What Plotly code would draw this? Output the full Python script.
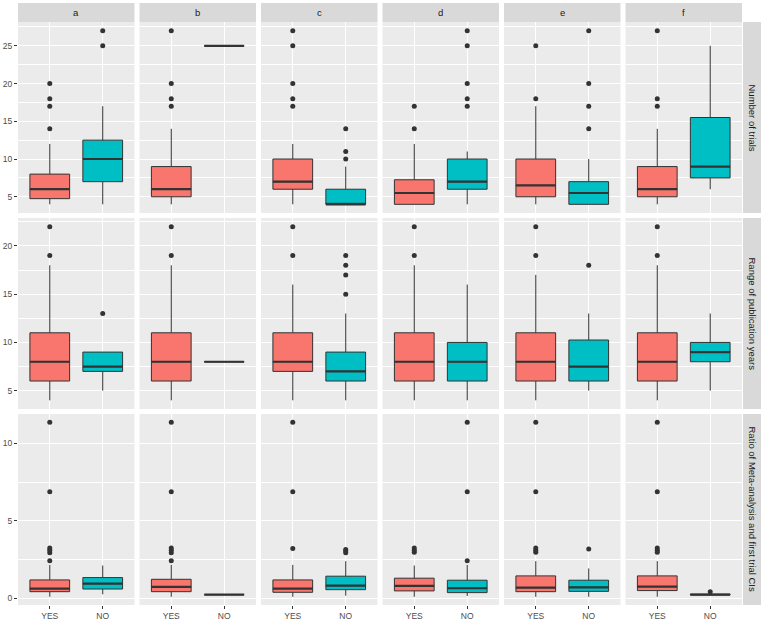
import plotly.graph_objects as go

facets = ["a", "b", "c", "d", "e", "f"]
metrics = ["Number of trials", "Range of publication years",
           "Ratio of Meta-analysis and first trial CIs"]
groups = ["YES", "NO"]

# ---- Number of trials ----
trials_yes_q1 = [4.75, 5, 6, 4, 5, 5]
trials_yes_med = [6, 6, 7, 5.5, 6.5, 6]
trials_yes_q3 = [8, 9, 10, 7.25, 10, 9]
trials_yes_lo = [4, 4, 4, 4, 4, 4]
trials_yes_hi = [12, 14, 12, 12, 17, 14]
trials_yes_out = [[14, 17, 18, 20], [17, 18, 20, 27], [17, 18, 20, 25, 27],
                  [14, 17], [18, 25], [17, 18, 27]]
trials_no_q1 = [7, 25, 4, 6, 4, 7.5]
trials_no_med = [10, 25, 4, 7, 5.5, 9]
trials_no_q3 = [12.5, 25, 6, 10, 7, 15.5]
trials_no_lo = [4, 25, 4, 4, 4, 6]
trials_no_hi = [17, 25, 9, 11, 10, 25]
trials_no_out = [[25, 27], [], [10, 11, 14], [17, 18, 20, 25, 27],
                 [14, 17, 20, 27], []]

# ---- Range of publication years ----
years_yes_q1 = [6, 6, 7, 6, 6, 6]
years_yes_med = [8, 8, 8, 8, 8, 8]
years_yes_q3 = [11, 11, 11, 11, 11, 11]
years_yes_lo = [4, 4, 4, 4, 4, 4]
years_yes_hi = [18, 18, 16, 18, 17, 18]
years_yes_out = [[19, 22], [19, 22], [19, 22], [19, 22], [19, 22], [19, 22]]
years_no_q1 = [7, 8, 6, 6, 6, 8]
years_no_med = [7.5, 8, 7, 8, 7.5, 9]
years_no_q3 = [9, 8, 9, 10, 10.25, 10]
years_no_lo = [5, 8, 4, 4, 5, 5]
years_no_hi = [9, 8, 13, 16, 13, 13]
years_no_out = [[13], [], [15, 17, 18, 19], [], [18], []]

# ---- Ratio of MA and first trial CIs ----
ratio_yes_q1 = [0.43, 0.43, 0.39, 0.48, 0.43, 0.5]
ratio_yes_med = [0.63, 0.74, 0.63, 0.8, 0.69, 0.76]
ratio_yes_q3 = [1.19, 1.23, 1.19, 1.3, 1.45, 1.45]
ratio_yes_lo = [0.1, 0.1, 0.1, 0.1, 0.1, 0.1]
ratio_yes_hi = [2.16, 2.16, 2.16, 2.12, 2.4, 2.4]
ratio_yes_out = [[2.42, 2.95, 3.1, 3.25, 6.88, 11.36],
                 [2.42, 2.95, 3.1, 3.25, 6.88, 11.36],
                 [3.22, 6.88, 11.36],
                 [2.97, 3.1, 3.25],
                 [2.97, 3.1, 3.25, 6.88, 11.36],
                 [2.97, 3.1, 3.25, 6.88, 11.36]]
ratio_no_q1 = [0.6, 0.24, 0.56, 0.37, 0.45, 0.22]
ratio_no_med = [0.95, 0.24, 0.82, 0.65, 0.71, 0.24]
ratio_no_q3 = [1.34, 0.24, 1.43, 1.17, 1.17, 0.27]
ratio_no_lo = [0.26, 0.24, 0.17, 0.15, 0.1, 0.2]
ratio_no_hi = [2.12, 0.24, 2.4, 2.16, 1.93, 0.3]
ratio_no_out = [[], [], [2.95, 3.05, 3.15], [2.42, 6.88, 11.36], [3.18], [0.43]]

y_ranges = [[2.85, 28.15], [3.1, 22.9], [-0.43, 11.9]]
y_dticks = [5, 5, 5]

stats = [
    {"YES": (trials_yes_q1, trials_yes_med, trials_yes_q3, trials_yes_lo, trials_yes_hi, trials_yes_out),
     "NO": (trials_no_q1, trials_no_med, trials_no_q3, trials_no_lo, trials_no_hi, trials_no_out)},
    {"YES": (years_yes_q1, years_yes_med, years_yes_q3, years_yes_lo, years_yes_hi, years_yes_out),
     "NO": (years_no_q1, years_no_med, years_no_q3, years_no_lo, years_no_hi, years_no_out)},
    {"YES": (ratio_yes_q1, ratio_yes_med, ratio_yes_q3, ratio_yes_lo, ratio_yes_hi, ratio_yes_out),
     "NO": (ratio_no_q1, ratio_no_med, ratio_no_q3, ratio_no_lo, ratio_no_hi, ratio_no_out)},
]
colors = {"YES": "#F8766D", "NO": "#00BFC4"}

W, H = 764, 620
PW, GAP = 116.5, 5
col_x0 = [18 + i * (PW + GAP) for i in range(6)]
PH = 191
row_y0 = [22, 22 + PH + 5, 22 + 2 * (PH + 5)]
STRIP_TOP = 3
STRIP_W = 18

FONT = "Liberation Sans, Arial, sans-serif"
LINE = "#333333"
BW = 0.75

fig = go.Figure()
layout = {}
shapes = []
annotations = []

for r in range(3):
    for c in range(6):
        k = r * 6 + c + 1
        xa = "x" if k == 1 else f"x{k}"
        ya = "y" if k == 1 else f"y{k}"
        xkey = "xaxis" if k == 1 else f"xaxis{k}"
        ykey = "yaxis" if k == 1 else f"yaxis{k}"
        x0 = col_x0[c]
        x1 = x0 + PW
        y0 = row_y0[r]
        y1 = y0 + PH
        layout[xkey] = dict(
            domain=[x0 / W, x1 / W], anchor=ya, range=[-0.6, 1.6],
            tickvals=[0, 1], ticktext=groups, showgrid=True,
            gridcolor="white", gridwidth=1.1, zeroline=False, showline=False,
            showticklabels=(r == 2), ticks="outside" if r == 2 else "",
            ticklen=3, tickcolor=LINE, tickwidth=1,
            tickfont=dict(family=FONT, size=8.5, color="#4D4D4D"),
            fixedrange=True,
        )
        layout[ykey] = dict(
            domain=[1 - y1 / H, 1 - y0 / H], anchor=xa, range=y_ranges[r],
            tick0=0, dtick=y_dticks[r], showgrid=True, gridcolor="white",
            gridwidth=1.1, zeroline=False, showline=False,
            minor=dict(dtick=y_dticks[r] / 2, tick0=0, showgrid=True,
                       gridcolor="white", gridwidth=0.5, ticks=""),
            showticklabels=(c == 0), ticks="outside" if c == 0 else "",
            ticklen=3, tickcolor=LINE, tickwidth=1,
            tickfont=dict(family=FONT, size=8.5, color="#4D4D4D"),
            fixedrange=True,
        )
        shapes.append(dict(type="rect", xref="paper", yref="paper",
                           x0=x0 / W, x1=x1 / W, y0=1 - y1 / H, y1=1 - y0 / H,
                           fillcolor="#EBEBEB", line=dict(width=0), layer="below"))
        for gi, g in enumerate(groups):
            q1, med, q3, lo, hi, out = stats[r][g]
            fig.add_trace(go.Box(
                x=[gi], q1=[q1[c]], median=[med[c]], q3=[q3[c]],
                lowerfence=[lo[c]], upperfence=[hi[c]],
                width=BW, whiskerwidth=0, boxpoints=False,
                fillcolor=colors[g], line=dict(color=LINE, width=1),
                xaxis=xa, yaxis=ya, showlegend=False, hoverinfo="skip",
            ))
            fig.add_trace(go.Scatter(
                x=[gi - BW / 2, gi + BW / 2], y=[med[c], med[c]], mode="lines",
                line=dict(color=LINE, width=2.2), xaxis=xa, yaxis=ya,
                showlegend=False, hoverinfo="skip",
            ))
            if out[c]:
                fig.add_trace(go.Scatter(
                    x=[gi] * len(out[c]), y=out[c], mode="markers",
                    marker=dict(color=LINE, size=5), xaxis=xa, yaxis=ya,
                    showlegend=False, hoverinfo="skip",
                ))

for c in range(6):
    x0 = col_x0[c]
    x1 = x0 + PW
    shapes.append(dict(type="rect", xref="paper", yref="paper",
                       x0=x0 / W, x1=x1 / W, y0=1 - row_y0[0] / H,
                       y1=1 - STRIP_TOP / H, fillcolor="#D9D9D9",
                       line=dict(width=0), layer="below"))
    annotations.append(dict(text=facets[c], xref="paper", yref="paper",
                            x=(x0 + x1) / 2 / W,
                            y=1 - (STRIP_TOP + row_y0[0]) / 2 / H,
                            showarrow=False, xanchor="center", yanchor="middle",
                            font=dict(family=FONT, size=9.5, color="#1A1A1A")))
sx0 = col_x0[5] + PW + 1
for r in range(3):
    y0 = row_y0[r]
    y1 = y0 + PH
    shapes.append(dict(type="rect", xref="paper", yref="paper",
                       x0=sx0 / W, x1=(sx0 + STRIP_W) / W,
                       y0=1 - y1 / H, y1=1 - y0 / H, fillcolor="#D9D9D9",
                       line=dict(width=0), layer="below"))
    annotations.append(dict(text=metrics[r], xref="paper", yref="paper",
                            x=(sx0 + STRIP_W / 2) / W, y=1 - (y0 + y1) / 2 / H,
                            showarrow=False, textangle=90,
                            xanchor="center", yanchor="middle",
                            font=dict(family=FONT, size=9.5, color="#1A1A1A")))

fig.update_layout(
    width=W, height=H, autosize=False,
    margin=dict(l=0, r=0, t=0, b=0),
    paper_bgcolor="white", plot_bgcolor="rgba(0,0,0,0)",
    shapes=shapes, annotations=annotations, showlegend=False,
    boxmode="overlay",
    **layout,
)

fig.write_html(
    "out.html",
    config={"displayModeBar": False},
    post_script="document.body.style.margin='0';document.body.style.overflow='hidden';",
)
